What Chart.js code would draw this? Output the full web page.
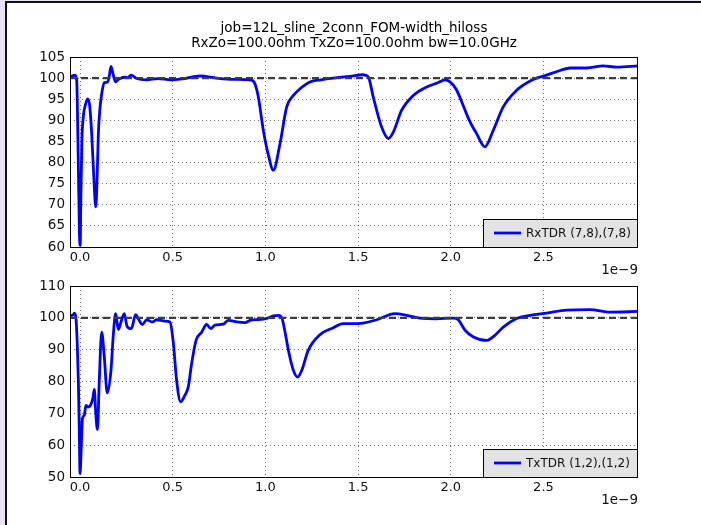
<!DOCTYPE html>
<html>
<head>
<meta charset="utf-8">
<script src="https://cdn.jsdelivr.net/npm/chart.js@4.4.0/dist/chart.umd.min.js"></script>
<style>
  html, body { margin: 0; padding: 0; width: 701px; height: 525px; overflow: hidden; background: #e8e2f6; }
  #sheet { position: absolute; left: 5px; top: 1px; width: 700px; height: 530px; background: #fff;
           border-left: 2px solid #111; border-top: 2px solid #111; }
  canvas { position: absolute; left: 0; }
  #rx-chart { top: 0; }
  #tx-chart { top: 255px; }
</style>
</head>
<body>
<div id="sheet"></div>
<canvas id="rx-chart" width="701" height="280"></canvas>
<canvas id="tx-chart" width="701" height="270"></canvas>
<script>
// time axis is in units of 1e-9 s
const titleLines = [
  "job=12L_sline_2conn_FOM-width_hiloss",
  "RxZo=100.0ohm TxZo=100.0ohm bw=10.0GHz",
];
const xTicks = [0.0, 0.5, 1.0, 1.5, 2.0, 2.5];
const xMin = -0.054;
const xMax = 3.01;
const refLevel = 100;

// RxTDR (7,8),(7,8)
const rxTime = [
  -0.054, -0.027, -0.018, -0.010, -0.003, 0.001, 0.004, 0.010, 0.018, 0.030,
  0.041, 0.052, 0.063, 0.075, 0.085, 0.092, 0.099, 0.108, 0.117, 0.131,
  0.149, 0.158, 0.167, 0.178, 0.192, 0.204, 0.216, 0.243, 0.258, 0.275,
  0.306, 0.36, 0.42, 0.49, 0.55, 0.647, 0.737, 0.827, 0.926, 0.945,
  0.962, 0.989, 1.015, 1.043, 1.079, 1.115, 1.151, 1.19, 1.24, 1.30,
  1.366, 1.456, 1.528, 1.555, 1.582, 1.627, 1.663, 1.69, 1.735, 1.798,
  1.87, 1.93, 1.969, 1.996, 2.03, 2.067, 2.10, 2.14, 2.184, 2.229,
  2.283, 2.355, 2.436, 2.517, 2.589, 2.643, 2.733, 2.823, 2.895, 3.01,
];
const rxTdr = [
  100.3, 100.7, 99.5, 82.0, 63.0, 60.4, 70.0, 85.0, 91.0, 93.8,
  95.1, 93.5, 86.9, 76.0, 69.5, 76.0, 86.9, 93.0, 96.3, 98.9,
  99.1, 100.5, 102.8, 101.0, 99.1, 99.6, 99.9, 100.2, 100.1, 100.7,
  99.9, 99.6, 99.9, 99.6, 99.8, 100.5, 100.0, 99.7, 99.5, 98.5,
  95.5, 87.6, 82.0, 78.2, 84.5, 93.2, 95.9, 97.6, 99.1, 99.6,
  100.0, 100.4, 100.8, 100.3, 95.5, 88.4, 85.7, 87.2, 92.4, 95.9,
  97.9, 98.9, 99.6, 99.1, 97.3, 93.5, 90.0, 86.8, 83.7, 87.6,
  93.2, 97.1, 99.5, 100.7, 101.8, 102.4, 102.4, 102.9, 102.6, 102.9,
];
const rxYTicks = [60, 65, 70, 75, 80, 85, 90, 95, 100, 105];

// TxTDR (1,2),(1,2)
const txTime = [
  -0.054, -0.040, -0.030, -0.022, -0.015, -0.009, -0.004, 0.0, 0.006, 0.013,
  0.023, 0.032, 0.045, 0.059, 0.070, 0.077, 0.085, 0.094, 0.104, 0.117,
  0.131, 0.147, 0.167, 0.18, 0.192, 0.207, 0.221, 0.239, 0.254, 0.277,
  0.3, 0.318, 0.336, 0.36, 0.39, 0.414, 0.458, 0.485, 0.503, 0.521,
  0.543, 0.566, 0.584, 0.602, 0.626, 0.656, 0.683, 0.705, 0.728, 0.773,
  0.8, 0.845, 0.89, 0.917, 0.971, 1.007, 1.043, 1.07, 1.088, 1.111,
  1.124, 1.151, 1.174, 1.196, 1.231, 1.294, 1.366, 1.42, 1.501, 1.6,
  1.699, 1.762, 1.834, 1.924, 2.014, 2.04, 2.077, 2.122, 2.194, 2.238,
  2.283, 2.355, 2.427, 2.517, 2.625, 2.751, 2.859, 3.01,
];
const txTdr = [
  100.8, 100.8, 101.5, 100.0, 92.0, 80.4, 65.0, 51.1, 58.0, 68.3,
  69.4, 72.5, 72.0, 72.8, 75.0, 77.5, 70.0, 64.9, 80.4, 95.5,
  87.7, 76.4, 83.5, 95.0, 101.3, 96.3, 98.7, 101.3, 97.3, 96.6,
  101.0, 99.3, 97.9, 99.4, 98.7, 99.4, 99.0, 98.7, 92.4, 80.4,
  73.6, 75.7, 78.3, 85.6, 92.9, 95.5, 97.9, 96.6, 97.7, 98.0,
  99.2, 98.7, 98.5, 99.2, 99.5, 99.8, 100.6, 100.8, 100.1, 94.0,
  89.8, 83.5, 81.4, 83.5, 89.8, 94.7, 96.9, 98.2, 98.2, 99.4,
  101.3, 100.8, 99.9, 99.7, 99.9, 99.4, 96.1, 94.0, 92.9, 94.5,
  97.1, 99.8, 100.8, 101.5, 102.4, 102.6, 101.8, 102.0,
];
const txYTicks = [50, 60, 70, 80, 90, 100, 110];

const FONT = "'DejaVu Sans', 'Liberation Sans', sans-serif";

function toPoints(xs, ys) {
  return xs.map((x, i) => ({ x: x, y: ys[i] }));
}

// frame, legend box, offset label and (optional) title
const decorPlugin = {
  id: "decor",
  afterDraw(chart, args, opts) {
    const { ctx, chartArea: a } = chart;
    ctx.save();

    // axes frame
    ctx.strokeStyle = "#000";
    ctx.lineWidth = 1;
    ctx.strokeRect(a.left + 0.5, a.top + 0.5, a.right - a.left - 1, a.bottom - a.top);

    // legend
    const lw = 155, lh = 28;
    const lx = a.right - lw, ly = a.bottom - lh;
    ctx.fillStyle = "#e3e3e3";
    ctx.fillRect(lx, ly, lw, lh);
    ctx.strokeStyle = "#000";
    ctx.strokeRect(lx + 0.5, ly + 0.5, lw - 1, lh);
    const ds = chart.data.datasets[1];
    ctx.strokeStyle = ds.borderColor;
    ctx.lineWidth = 2.8;
    ctx.beginPath();
    ctx.moveTo(lx + 11, ly + lh / 2);
    ctx.lineTo(lx + 38, ly + lh / 2);
    ctx.stroke();
    ctx.fillStyle = "#111";
    ctx.font = "12px " + FONT;
    ctx.textBaseline = "middle";
    ctx.textAlign = "left";
    ctx.fillText(ds.label, lx + 43, ly + lh / 2 + 0.5);

    // x offset text
    ctx.font = "13.5px " + FONT;
    ctx.textAlign = "right";
    ctx.fillText("1e\u22129", a.right, a.bottom + 23);

    // title
    if (opts.lines) {
      ctx.fillStyle = "#000";
      ctx.font = "13.5px " + FONT;
      ctx.textAlign = "center";
      ctx.textBaseline = "alphabetic";
      const cx = (a.left + a.right) / 2;
      opts.lines.forEach((line, i) => {
        ctx.fillText(line, cx, 32 + i * 15);
      });
    }
    ctx.restore();
  },
};

function makeChart(canvasId, label, xs, ys, yTicks, padTop, xAxisHeight, lines) {
  const ctx = document.getElementById(canvasId);
  return new Chart(ctx, {
    type: "line",
    data: {
      datasets: [
        {
          label: "ref",
          data: [{ x: xMin, y: refLevel }, { x: xMax, y: refLevel }],
          borderColor: "#3c3c3c",
          borderWidth: 2.2,
          borderDash: [7, 4],
          pointRadius: 0,
          order: 0,
        },
        {
          label: label,
          data: toPoints(xs, ys),
          borderColor: "#0000ff",
          borderWidth: 2.8,
          pointRadius: 0,
          cubicInterpolationMode: "monotone",
          order: 1,
        },
      ],
    },
    options: {
      responsive: false,
      animation: false,
      devicePixelRatio: 1,
      layout: { padding: { top: padTop, right: 63, left: 0, bottom: 0 } },
      scales: {
        x: {
          type: "linear",
          min: xMin,
          max: xMax,
          afterBuildTicks: (scale) => {
            scale.ticks = xTicks.map((v) => ({ value: v }));
          },
          afterFit: (scale) => {
            scale.height = xAxisHeight;
          },
          grid: { color: "rgba(0,0,0,0.55)", lineWidth: 1, drawTicks: false },
          border: { display: false, dash: [1, 3] },
          ticks: {
            color: "#111",
            padding: 3,
            maxRotation: 0,
            font: { family: FONT, size: 13 },
            callback: (v) => Number(v).toFixed(1),
          },
        },
        y: {
          min: yTicks[0],
          max: yTicks[yTicks.length - 1],
          afterBuildTicks: (scale) => {
            scale.ticks = yTicks.map((v) => ({ value: v }));
          },
          afterFit: (scale) => {
            scale.width = 70;
          },
          grid: { color: "rgba(0,0,0,0.55)", lineWidth: 1, drawTicks: false },
          border: { display: false, dash: [1, 3] },
          ticks: {
            color: "#111",
            padding: 5,
            font: { family: FONT, size: 13.5 },
            callback: (v) => String(v),
          },
        },
      },
      plugins: {
        legend: { display: false },
        tooltip: { enabled: false },
        title: { display: false },
        decor: { lines: lines },
      },
    },
    plugins: [decorPlugin],
  });
}

// chart areas: top 57..247, bottom 286..477 (page pixels); the canvases overlap
makeChart("rx-chart", "RxTDR (7,8),(7,8)", rxTime, rxTdr, rxYTicks, 57, 33, titleLines);
makeChart("tx-chart", "TxTDR (1,2),(1,2)", txTime, txTdr, txYTicks, 31, 48, null);
</script>
</body>
</html>
